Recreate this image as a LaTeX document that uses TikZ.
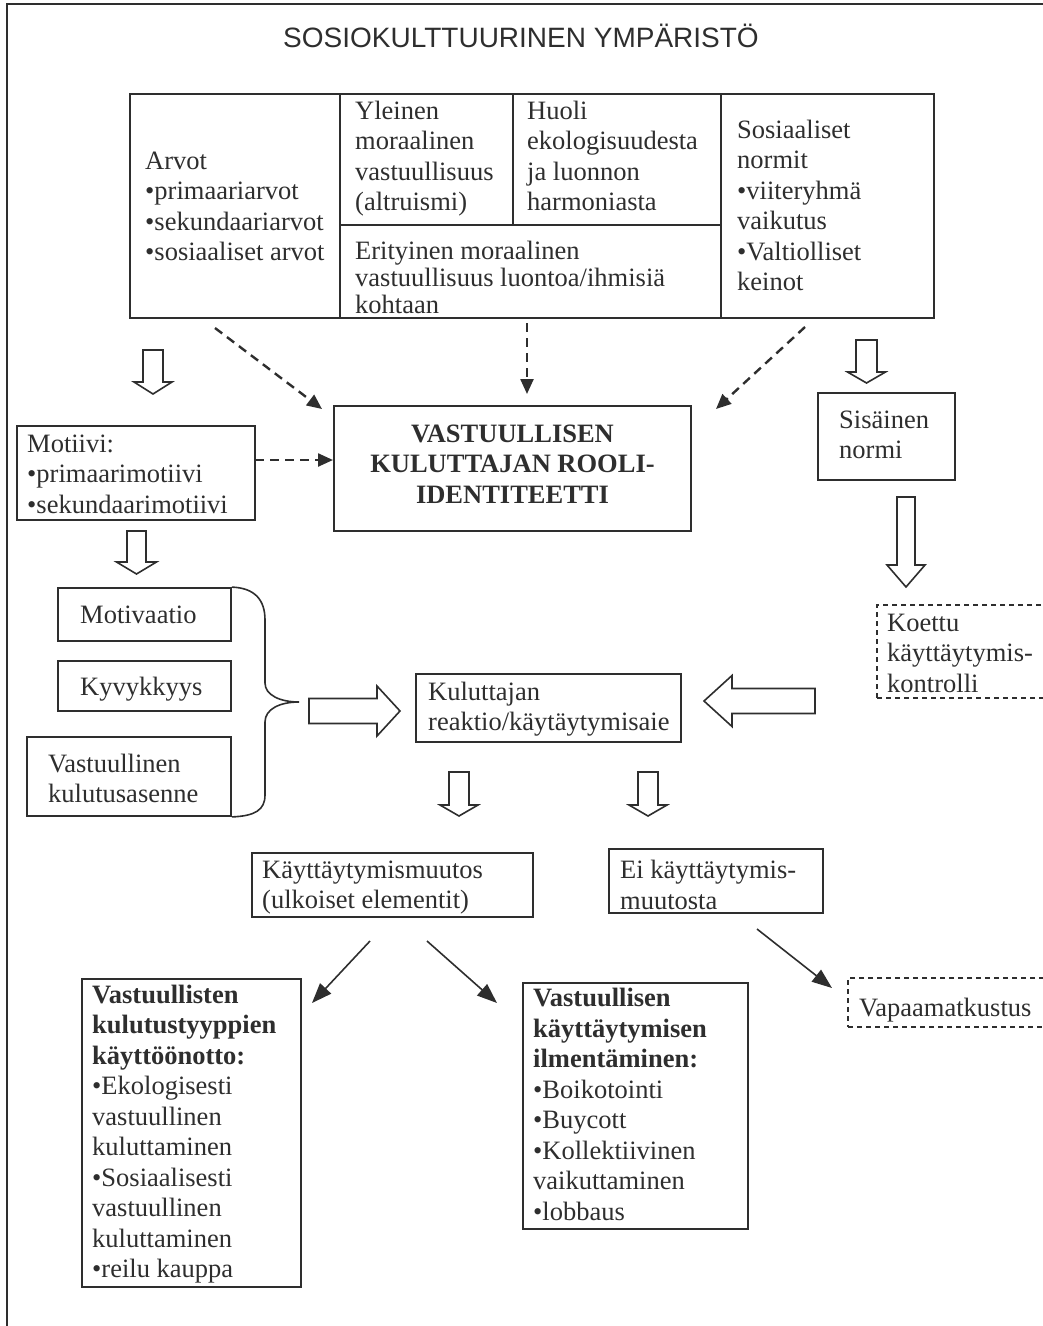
\documentclass[tikz,border=0pt]{standalone}
\usepackage{fontspec}
\setmainfont{Liberation Serif}
\newfontfamily\titlefont{Liberation Sans}
\usetikzlibrary{arrows.meta,fit}
\definecolor{ink}{HTML}{2E2E2E}
\newcommand\fs{\fontsize{26.5}{30.5}\selectfont}
% hollow down arrow: cx, top, headbase, tip, shaft half, head half
\newcommand\hdn[6]{\draw[hollow] (#1-#5,#2) -- (#1+#5,#2) -- (#1+#5,#3) -- (#1+#6,#3) -- (#1,#4) -- (#1-#6,#3) -- (#1-#5,#3) -- cycle;}
% hollow horizontal arrow: cy, tail x, headbase x, tip x, shaft half, head half
\newcommand\hhz[6]{\draw[hollow] (#2,#1-#5) -- (#3,#1-#5) -- (#3,#1-#6) -- (#4,#1) -- (#3,#1+#6) -- (#3,#1+#5) -- (#2,#1+#5) -- cycle;}
\begin{document}
\begin{tikzpicture}[x=1pt,y=-1pt,
  box/.style={draw=ink,line width=1.8pt,inner sep=0pt},
  dbox/.style={draw=ink,line width=1.8pt,inner sep=0pt,dash pattern=on 5pt off 4pt},
  txt/.style={anchor=base west,align=left,inner sep=0pt,font=\fs,text=ink},
  hollow/.style={draw=ink,line width=1.6pt,fill=white,line join=miter},
  dasharrow/.style={draw=ink,line width=2.4pt,dash pattern=on 9pt off 6pt,-{Triangle[length=15pt,width=13pt]}},
  solarrow/.style={draw=ink,line width=1.6pt,-{Triangle[length=20pt,width=15pt]}}]
\useasboundingbox (0,0) rectangle (1043,1326);
\clip (0,0) rectangle (1043,1326);
% outer frame
\draw[ink,line width=2.4pt] (7,1340) -- (7,4) -- (1060,4);
\node[anchor=base,inner sep=0pt,text=ink,font=\titlefont\fontsize{28}{32}\selectfont] (title) at (521,47) {SOSIOKULTTUURINEN YMPÄRISTÖ};
% top table (text nodes are anchored at the baseline of their LAST line)
\node[box,fit={(130,94) (340,318)}] (arvot) {};
\node[box,fit={(340,94) (513,225)}] (yle) {};
\node[box,fit={(513,94) (721,225)}] (huoli) {};
\node[box,fit={(340,225) (721,318)}] (erit) {};
\node[box,fit={(721,94) (934,318)}] (sos) {};
\node[txt] (arvot-t) at (145,260.5) {Arvot\\•primaariarvot\\•sekundaariarvot\\•sosiaaliset arvot};
\node[txt] (yle-t) at (355,210.5) {Yleinen\\moraalinen\\vastuullisuus\\(altruismi)};
\node[txt] (huoli-t) at (527,210.5) {Huoli\\ekologisuudesta\\ja luonnon\\harmoniasta};
\node[txt,font=\fontsize{26.5}{27}\selectfont] (erit-t) at (355,313) {Erityinen moraalinen\\vastuullisuus luontoa/ihmisiä\\kohtaan};
\node[txt] (sos-t) at (737,290.5) {Sosiaaliset\\normit\\•viiteryhmä\\vaikutus\\•Valtiolliset\\keinot};
% main box
\node[box,fit={(334,406) (691,531)}] (main) {};
\node[anchor=base,align=center,inner sep=0pt,font=\fs\bfseries,text=ink] (main-t) at (512.5,503) {VASTUULLISEN\\KULUTTAJAN ROOLI-\\IDENTITEETTI};
% motive
\node[box,fit={(17,426) (255,520)}] (motiivi) {};
\node[txt] (motiivi-t) at (27,513) {Motiivi:\\•primaarimotiivi\\•sekundaarimotiivi};
% internal norm
\node[box,fit={(818,393) (955,480)}] (sisa) {};
\node[txt] (sisa-t) at (839,458.5) {Sisäinen\\normi};
\node[dbox,fit={(877,605) (1070,698)}] (koettu) {};
\node[txt] (koettu-t) at (887,692) {Koettu\\käyttäytymis-\\kontrolli};
% three factors
\node[box,fit={(58,588) (231,641)}] (motiv) {};
\node[txt] (motiv-t) at (80,623) {Motivaatio};
\node[box,fit={(58,661) (231,711)}] (kyv) {};
\node[txt] (kyv-t) at (80,695) {Kyvykkyys};
\node[box,fit={(27,737) (231,816)}] (vast) {};
\node[txt] (vast-t) at (48,802.5) {Vastuullinen\\kulutusasenne};
\draw[ink,line width=1.6pt] (motiv.north east) .. controls (255,588) and (265,600) .. (265,620) -- (265,683) .. controls (265,695) and (280,702) .. (299,702) .. controls (280,702) and (265,709) .. (265,722) -- (265,795) .. controls (265,810) and (255,816) .. (vast.south east);
% reaction
\node[box,fit={(416,674) (681,742)}] (kul) {};
\node[txt] (kul-t) at (428,730.5) {Kuluttajan\\reaktio/käytäytymisaie};
\node[box,fit={(252,853) (533,917)}] (kaytt) {};
\node[txt] (kaytt-t) at (262,908.5) {Käyttäytymismuutos\\(ulkoiset elementit)};
\node[box,fit={(609,849) (823,913)}] (ei) {};
\node[txt] (ei-t) at (620,909) {Ei käyttäytymis-\\muutosta};
% outcomes
\node[box,fit={(82,979) (301,1287)}] (vastl) {};
\node[txt] (vastl-t) at (92,1277.5) {\textbf{Vastuullisten}\\\textbf{kulutustyyppien}\\\textbf{käyttöönotto:}\\•Ekologisesti\\vastuullinen\\kuluttaminen\\•Sosiaalisesti\\vastuullinen\\kuluttaminen\\•reilu kauppa};
\node[box,fit={(523,983) (748,1229)}] (vastm) {};
\node[txt] (vastm-t) at (533,1220) {\textbf{Vastuullisen}\\\textbf{käyttäytymisen}\\\textbf{ilmentäminen:}\\•Boikotointi\\•Buycott\\•Kollektiivinen\\vaikuttaminen\\•lobbaus};
\node[dbox,fit={(848,978) (1070,1027)}] (vapaa) {};
\node[txt] (vapaa-t) at (859,1016) {Vapaamatkustus};
% dashed arrows
\coordinate (d1s) at (215,328); \coordinate (d1e) at (322,409);
\coordinate (d2s) at (527,323); \coordinate (d2e) at (527,394);
\coordinate (d3s) at (805,327); \coordinate (d3e) at (716,409);
\coordinate (d4s) at (255,460); \coordinate (d4e) at (333,460);
\draw[dasharrow] (d1s) -- (d1e);
\draw[dasharrow] (d2s) -- (d2e);
\draw[dasharrow] (d3s) -- (d3e);
\draw[dasharrow] (d4s) -- (d4e);
% hollow arrows
\hdn{153}{350}{382}{394}{10}{19}
\hdn{136.5}{531}{562}{574}{9.5}{20}
\hdn{866.5}{340}{372}{383}{10.5}{19}
\hdn{906}{497}{565}{587}{9}{19}
\hdn{459}{772}{805}{816}{10}{19}
\hdn{648}{772}{805}{816}{10}{19}
\hhz{711}{309}{377}{400}{12.5}{25}
\hhz{701}{815}{732}{704}{12.5}{25.5}
% solid arrows
\coordinate (b1s) at (370,941); \coordinate (b1e) at (312,1003);
\coordinate (b2s) at (427,941); \coordinate (b2e) at (497,1003);
\coordinate (b3s) at (757,929); \coordinate (b3e) at (832,988);
\draw[solarrow] (b1s) -- (b1e);
\draw[solarrow] (b2s) -- (b2e);
\draw[solarrow] (b3s) -- (b3e);
\end{tikzpicture}
\end{document}
